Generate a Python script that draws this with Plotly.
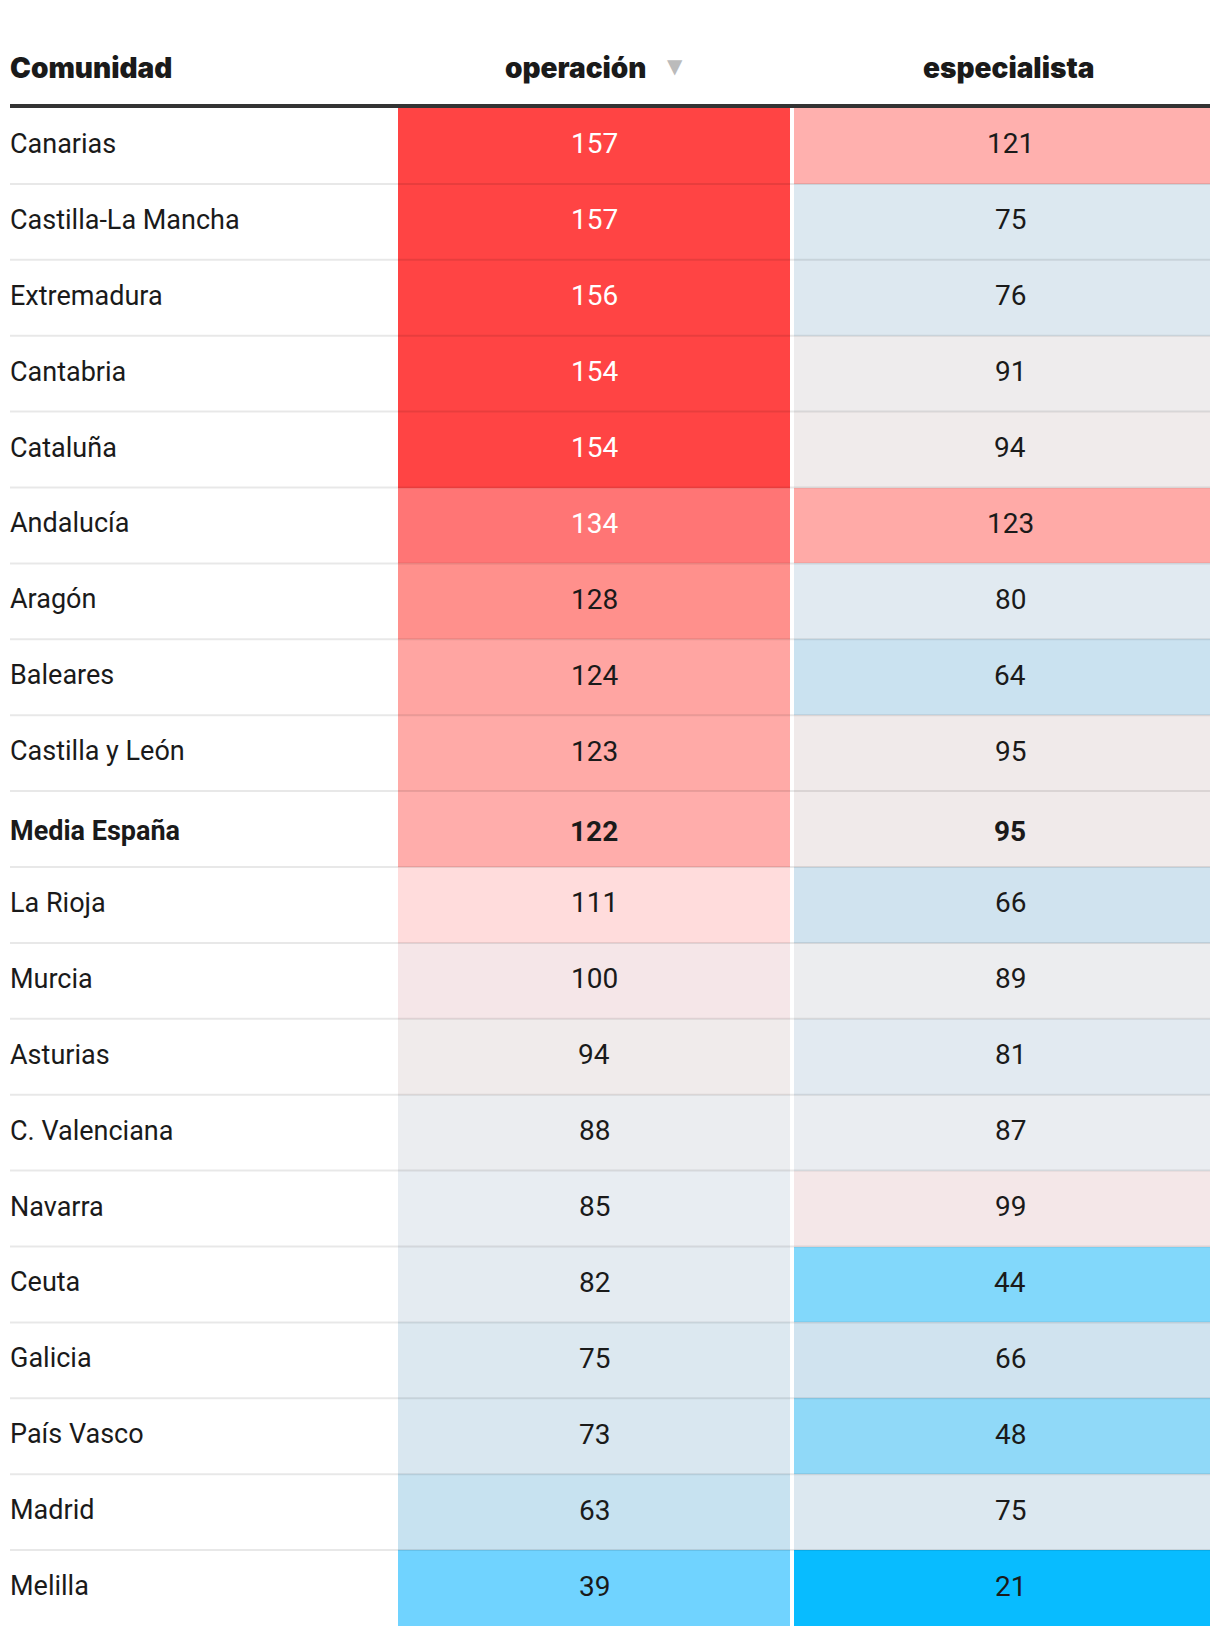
import plotly.graph_objects as go

comunidades = ["Canarias", "Castilla-La Mancha", "Extremadura", "Cantabria", "Cataluña",
               "Andalucía", "Aragón", "Baleares", "Castilla y León", "Media España",
               "La Rioja", "Murcia", "Asturias", "C. Valenciana", "Navarra",
               "Ceuta", "Galicia", "País Vasco", "Madrid", "Melilla"]
operacion = [157, 157, 156, 154, 154, 134, 128, 124, 123, 122,
             111, 100, 94, 88, 85, 82, 75, 73, 63, 39]
especialista = [121, 75, 76, 91, 94, 123, 80, 64, 95, 95,
                66, 89, 81, 87, 99, 44, 66, 48, 75, 21]
headers = ["Comunidad", "operación", "especialista"]
sort_marker = "▼"
highlight = "Media España"

# colour scale stops (value, colour)
stops = [(21, "#08BCFF"), (39, "#70D3FF"), (44, "#82D8FB"), (48, "#90D9F8"),
         (63, "#C7E2F0"), (66, "#D0E3EF"), (75, "#DCE8F0"), (81, "#E2EAF1"),
         (85, "#E8EDF2"), (88, "#EBEDF0"), (91, "#EEECED"), (95, "#F0EAEA"),
         (100, "#F5E6E8"), (111, "#FFDCDC"), (121, "#FFB0AE"), (123, "#FFAAA7"),
         (128, "#FF908C"), (134, "#FF7575"), (150, "#FF4444"), (157, "#FF4444")]
zmin, zmax = 21, 157
colorscale = [[(v - zmin) / (zmax - zmin), c] for v, c in stops]

n = len(comunidades)
rows = list(range(n))
z = [[o, e] for o, e in zip(operacion, especialista)]

# page has an 8px body margin; figure sized to fit the 1220x1636 window
W, H = 1212, 1628
ML, MR, MT, MB = 2, 10, 100, 10
XW = W - ML - MR  # axis units == pixels
PH = H - MT - MB

x_edges = [386, 782, 1202]
col_centers = [584, 1000]

fig = go.Figure()
fig.add_trace(go.Heatmap(
    z=z, x=x_edges, y=rows, colorscale=colorscale, zmin=zmin, zmax=zmax,
    xgap=4, ygap=0, showscale=False, hoverinfo="skip"))

FONT = "Roboto, Lato, sans-serif"
HFONT = "Inter, Roboto, sans-serif"
TXT = "#1a1a1a"
annotations = []
for i, name in enumerate(comunidades):
    bold = name == highlight
    fmt = (lambda s: f"<b>{s}</b>") if bold else (lambda s: s)
    ys = -2 if bold else 2
    annotations.append(dict(x=0, y=i, xref="x", yref="y", text=fmt(name),
                            xanchor="left", yanchor="middle", showarrow=False,
                            xshift=-2, yshift=ys,
                            font=dict(family=FONT, size=27, color=TXT)))
    for j, vals in enumerate([operacion, especialista]):
        v = vals[i]
        col = "#ffffff" if v >= 130 else TXT
        annotations.append(dict(x=col_centers[j], y=i, xref="x", yref="y", text=fmt(str(v)),
                                xanchor="center", yanchor="middle", showarrow=False, yshift=ys,
                                font=dict(family=FONT, size=28, color=col)))

def py(page_y):
    fig_y = page_y - 8
    return 1 + (MT - fig_y) / PH

hfont = dict(family=HFONT, size=28, color=TXT, weight=900)
annotations.append(dict(x=0, y=py(68), xref="x", yref="paper", text=headers[0], xshift=-2,
                        xanchor="left", yanchor="middle", showarrow=False, font=hfont))
annotations.append(dict(x=566, y=py(68), xref="x", yref="paper", text=headers[1],
                        xanchor="center", yanchor="middle", showarrow=False, font=hfont))
annotations.append(dict(x=665, y=py(66), xref="x", yref="paper", text=sort_marker,
                        xanchor="center", yanchor="middle", showarrow=False,
                        font=dict(family="DejaVu Sans", size=20, color="#bbbbbb")))
annotations.append(dict(x=998, y=py(68), xref="x", yref="paper", text=headers[2],
                        xanchor="center", yanchor="middle", showarrow=False, font=hfont))

shapes = []
for i in range(n - 1):
    shapes.append(dict(type="line", xref="x", yref="y", x0=0, x1=XW, y0=i + 0.5, y1=i + 0.5,
                       line=dict(color="rgba(0,0,0,0.09)", width=2), layer="above"))
shapes.append(dict(type="rect", xref="x", yref="paper", x0=0, x1=XW,
                   ysizemode="pixel", yanchor=1, y0=0, y1=4,
                   fillcolor="#333333", line=dict(width=0), layer="above"))

fig.update_layout(
    width=W, height=H,
    margin=dict(l=ML, r=MR, t=MT, b=MB),
    paper_bgcolor="white", plot_bgcolor="white",
    xaxis=dict(range=[0, XW], visible=False, fixedrange=True),
    yaxis=dict(range=[n - 0.5, -0.5], visible=False, fixedrange=True),
    annotations=annotations, shapes=shapes, showlegend=False,
)
fig.write_html("out.html", config={"displayModeBar": False})
